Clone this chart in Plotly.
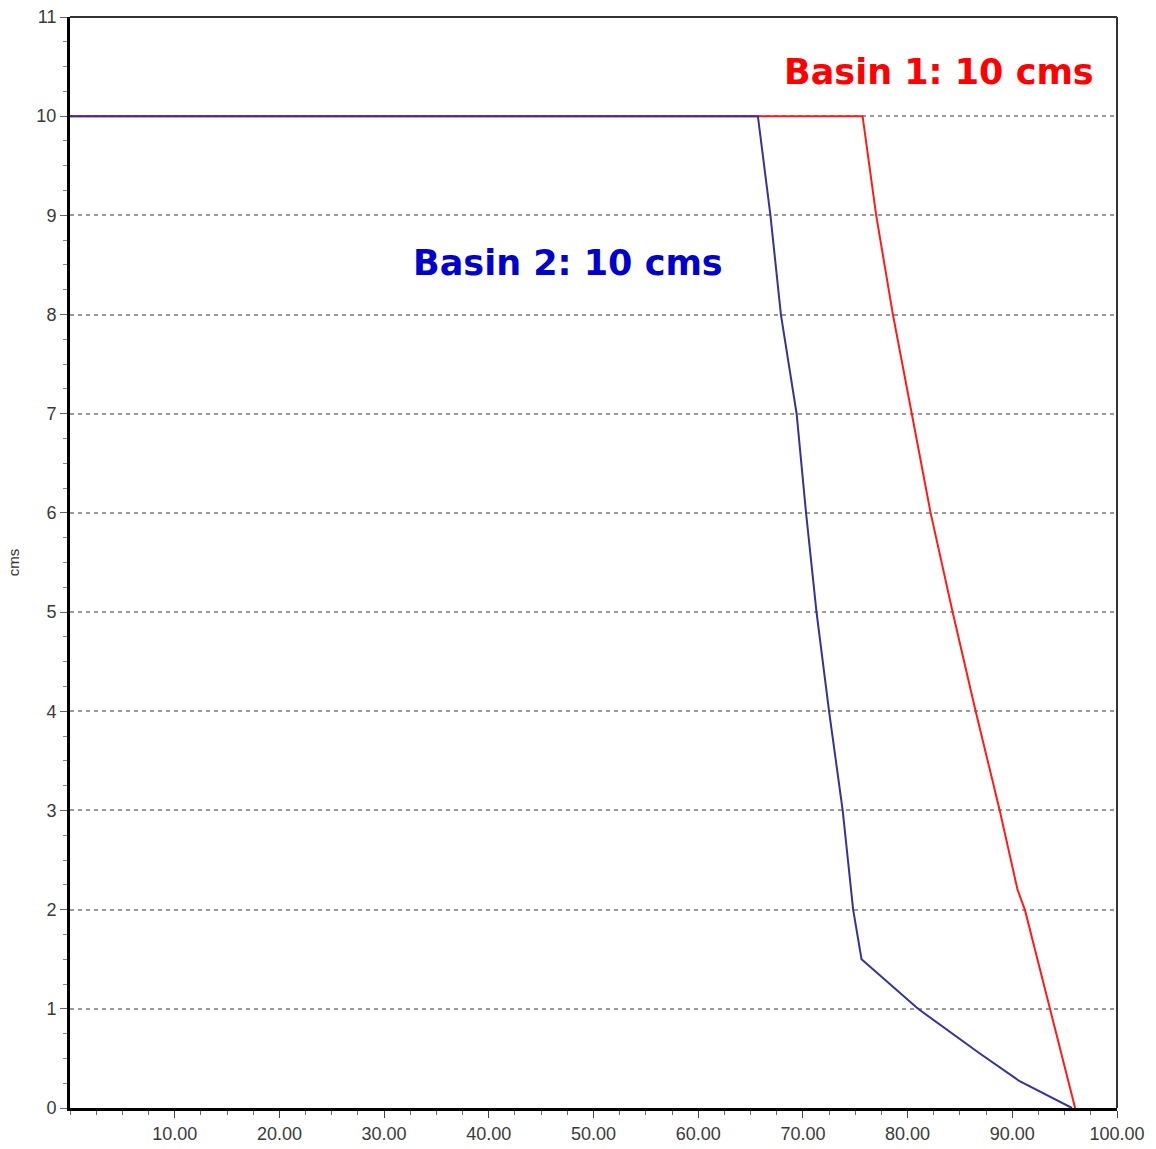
import plotly.graph_objects as go

# Basin 1 (red) and Basin 2 (blue) curves: percent of time vs flow (cms)
basin1_x = [0, 75.7, 77.0, 78.6, 80.4, 82.2, 84.3, 86.5, 88.8, 90.5, 91.2, 93.6, 96.0]
basin1_y = [10, 10, 9, 8, 7, 6, 5, 4, 3, 2.2, 2, 1, 0]

basin2_x = [0, 65.7, 66.9, 67.9, 69.4, 70.3, 71.3, 72.5, 73.8, 74.8, 75.6, 81.0, 86.9, 90.7, 95.7]
basin2_y = [10, 10, 9, 8, 7, 6, 5, 4, 3, 2, 1.5, 1, 0.55, 0.27, 0]

x_ticks = [10, 20, 30, 40, 50, 60, 70, 80, 90, 100]
y_ticks = list(range(0, 12))

fig = go.Figure()
fig.add_trace(go.Scatter(x=basin1_x, y=basin1_y, mode="lines",
                         line=dict(color="#ff1a1a", width=2), name="Basin 1"))
fig.add_trace(go.Scatter(x=basin2_x, y=basin2_y, mode="lines",
                         line=dict(color="#33339a", width=2), name="Basin 2"))

fig.update_layout(
    width=1156, height=1149,
    margin=dict(l=70, r=39, t=17, b=41),
    paper_bgcolor="white", plot_bgcolor="white",
    showlegend=False,
    font=dict(family="Liberation Sans, Arial, sans-serif", color="#333333"),
)
fig.update_xaxes(
    range=[0, 100], tickvals=x_ticks, tickformat=".2f",
    showgrid=False, zeroline=False, automargin=False,
    showline=True, linecolor="black", linewidth=3,
    ticks="outside", ticklen=7, tickcolor="#444", tickwidth=1,
    ticklabelstandoff=0,
    minor=dict(dtick=2.5, ticks="outside", ticklen=4, tickcolor="#666", showgrid=False),
    tickfont=dict(size=18, color="#3a3a3a"),
)
fig.update_yaxes(
    range=[0, 11], tickvals=y_ticks, automargin=False,
    showgrid=True, gridcolor="#9a9a9a", gridwidth=1.5, griddash="4px,4px",
    zeroline=False,
    showline=True, linecolor="black", linewidth=3,
    ticks="outside", ticklen=7, tickcolor="#666", tickwidth=1,
    ticklabelstandoff=0,
    minor=dict(dtick=0.25, ticks="outside", ticklen=4, tickcolor="#888", showgrid=False),
    tickfont=dict(size=18, color="#3a3a3a"),
    title=dict(text="cms", font=dict(size=15, color="#333333"), standoff=14),
)
# top and right frame
fig.add_shape(type="line", xref="paper", yref="paper", x0=0, x1=1, y0=1, y1=1,
              line=dict(color="#333333", width=2))
fig.add_shape(type="line", xref="paper", yref="paper", x0=1, x1=1, y0=0, y1=1,
              line=dict(color="#333333", width=2))

fig.add_annotation(x=83.0, y=10.45, text="<b>Basin 1: 10 cms</b>", showarrow=False,
                   font=dict(family="DejaVu Sans, Verdana, sans-serif", size=35, color="#ff0000"))
fig.add_annotation(x=47.6, y=8.52, text="<b>Basin 2: 10 cms</b>", showarrow=False,
                   font=dict(family="DejaVu Sans, Verdana, sans-serif", size=35, color="#0000cc"))

fig.write_html("out.html")
